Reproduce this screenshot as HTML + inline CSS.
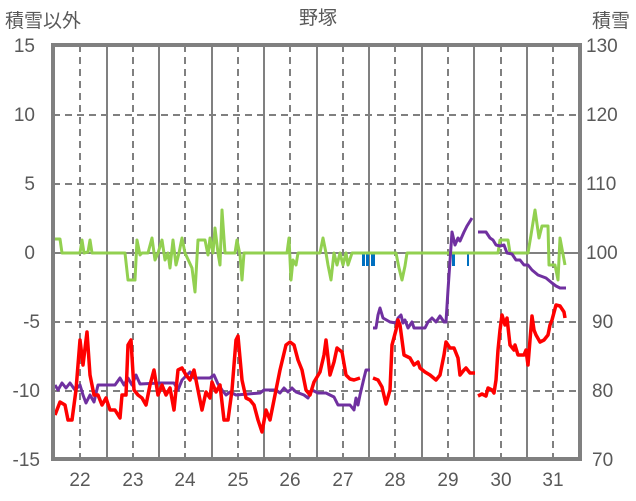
<!DOCTYPE html><html><head><meta charset="utf-8"><style>body{margin:0;background:#fff}svg{display:block}text{font-family:"Liberation Sans","Noto Sans CJK JP",sans-serif;fill:#595959;font-size:19px}</style></head><body>
<svg width="636" height="501" viewBox="0 0 636 501">
<g stroke="#808080" stroke-width="2" stroke-dasharray="7,5">
<line x1="53" y1="115" x2="580" y2="115" stroke="#d9d9d9"/><line x1="53" y1="184" x2="580" y2="184" stroke="#d9d9d9"/>
<line x1="53" y1="115" x2="580" y2="115"/><line x1="53" y1="184" x2="580" y2="184"/>
<line x1="53" y1="322" x2="580" y2="322"/><line x1="53" y1="391" x2="580" y2="391"/>
<line x1="80" y1="45" x2="80" y2="459"/><line x1="133" y1="45" x2="133" y2="459"/><line x1="185" y1="45" x2="185" y2="459"/><line x1="238" y1="45" x2="238" y2="459"/><line x1="290" y1="45" x2="290" y2="459"/><line x1="343" y1="45" x2="343" y2="459"/><line x1="395" y1="45" x2="395" y2="459"/><line x1="448" y1="45" x2="448" y2="459"/><line x1="501" y1="45" x2="501" y2="459"/><line x1="553" y1="45" x2="553" y2="459"/>
</g>
<g stroke="#808080" stroke-width="2">
<line x1="107" y1="45" x2="107" y2="459"/><line x1="159" y1="45" x2="159" y2="459"/><line x1="212" y1="45" x2="212" y2="459"/><line x1="264" y1="45" x2="264" y2="459"/><line x1="317" y1="45" x2="317" y2="459"/><line x1="369" y1="45" x2="369" y2="459"/><line x1="422" y1="45" x2="422" y2="459"/><line x1="474" y1="45" x2="474" y2="459"/><line x1="527" y1="45" x2="527" y2="459"/>
<line x1="53" y1="253" x2="580" y2="253"/>
</g>
<g fill="#0070c0"><rect x="362" y="253" width="3" height="13"/><rect x="366" y="253" width="3" height="13"/><rect x="371" y="253" width="4" height="13"/><rect x="452" y="253" width="3" height="13"/><rect x="467" y="253" width="2" height="13"/></g>
<g fill="none" stroke-linejoin="round" stroke-width="3">
<polyline stroke="#92d050" points="53,239 60,239 62,253 80,253 82,240 84,253 88,252 90,240 92,253 125,253 128,280 135,280 137,240 140,255 142,253 148,253 152,238 155,260 158,253 162,240 165,260 168,253 170,268 173,240 176,265 179,253 182,238 185,253 192,268 195,292 198,240 205,240 208,255 210,238 213,253 215,228 218,253 220,265 222,210 225,253 235,253 237,240 240,255 242,280 244,253 287,253 289,238 291,280 293,260 296,265 298,253 320,253 323,238 326,253 328,265 331,280 334,253 337,265 340,253 343,265 346,253 348,265 352,253 396,253 399,268 402,280 405,266 407,253 498,253 500,240 508,240 510,253 528,253 531,235 535,210 539,238 542,226 548,226 549,265 555,265 558,280 560,238 565,265"/>
<polyline stroke="#7030a0" points="55,385 58,390 62,383 66,388 70,383 75,390 80,385 83,395 86,403 90,395 94,402 98,385 115,385 120,378 124,385 128,378 132,385 136,375 140,384 160,383 170,383 174,383 178,390 182,380 186,376 190,372 194,378 210,378 214,375 218,384 222,390 226,395 230,392 236,395 260,393 264,390 276,390 280,393 284,388 288,392 292,388 296,392 304,395 308,398 312,390 318,393 326,393 334,397 338,405 350,405 354,410 356,398 358,405 360,395 364,378 366,370 370,370"/>
<polyline stroke="#7030a0" points="373,328 376,328 378,315 380,308 383,318 390,322 396,323 398,318 401,315 403,323 405,320 408,328 412,322 414,328 425,328 428,322 432,318 436,322 440,316 444,322 446,322 448,290 452,232 455,245 458,238 460,241 464,232 467,226 472,218"/>
<polyline stroke="#7030a0" points="478,232 486,232 490,238 493,240 496,245 500,246 504,245 507,253 512,254 516,260 520,260 524,265 528,265 532,270 538,275 546,278 552,283 556,286 560,288 566,288"/>
<polyline stroke="#ff0000" stroke-width="3.5" points="55,415 60,402 65,405 68,420 72,420 76,390 80,340 83,365 87,332 90,375 94,395 98,395 102,405 106,398 110,410 115,410 120,418 122,395 126,395 128,345 131,340 134,390 138,395 142,398 146,405 150,385 154,370 158,395 162,385 166,395 170,388 174,410 178,370 182,368 186,375 190,380 194,370 198,390 202,410 206,392 210,398 212,382 216,392 220,385 224,420 228,420 232,390 236,340 238,336 242,380 246,398 250,400 254,405 258,420 262,432 266,410 270,420 274,400 280,370 286,345 290,342 294,345 298,360 302,370 306,390 310,395 314,382 320,372 324,355 326,340 330,375 334,362 337,348 342,352 346,375 350,379 354,380 360,378"/>
<polyline stroke="#ff0000" stroke-width="3.5" points="373,378 378,380 382,387 386,404 390,390 392,345 396,330 398,320 400,325 404,355 410,358 414,365 418,362 420,368 425,372 430,375 436,380 440,375 444,355 446,342 450,348 454,348 458,358 460,375 464,370 466,368 470,373 475,373"/>
<polyline stroke="#ff0000" stroke-width="3.5" points="478,396 482,394 486,396 488,388 492,390 494,393 496,380 498,350 500,330 502,315 505,325 507,318 510,345 514,350 515,345 518,355 524,355 526,350 528,365 530,340 532,316 534,330 536,335 540,342 544,340 548,335 550,325 552,320 556,305 560,306 564,312 565,318"/>
</g>
<rect x="53" y="45" width="527" height="414" fill="none" stroke="#808080" stroke-width="4"/>
<g text-anchor="end"><text x="35" y="52">15</text><text x="35" y="121">10</text><text x="35" y="190">5</text><text x="35" y="259">0</text><text x="40" y="328">-5</text><text x="40" y="397">-10</text><text x="40" y="466">-15</text></g>
<g text-anchor="start"><text x="586" y="52">130</text><text x="586" y="121">120</text><text x="586" y="190">110</text><text x="586" y="259">100</text><text x="592" y="328">90</text><text x="592" y="397">80</text><text x="592" y="466">70</text></g>
<g text-anchor="middle"><text x="80" y="486">22</text><text x="133" y="486">23</text><text x="185" y="486">24</text><text x="238" y="486">25</text><text x="290" y="486">26</text><text x="343" y="486">27</text><text x="395" y="486">28</text><text x="448" y="486">29</text><text x="501" y="486">30</text><text x="553" y="486">31</text>
<text x="318" y="24" font-size="18">野塚</text></g>
<text x="5" y="27" font-size="18">積雪以外</text><text x="592" y="27" font-size="18">積雪</text>
</svg></body></html>
